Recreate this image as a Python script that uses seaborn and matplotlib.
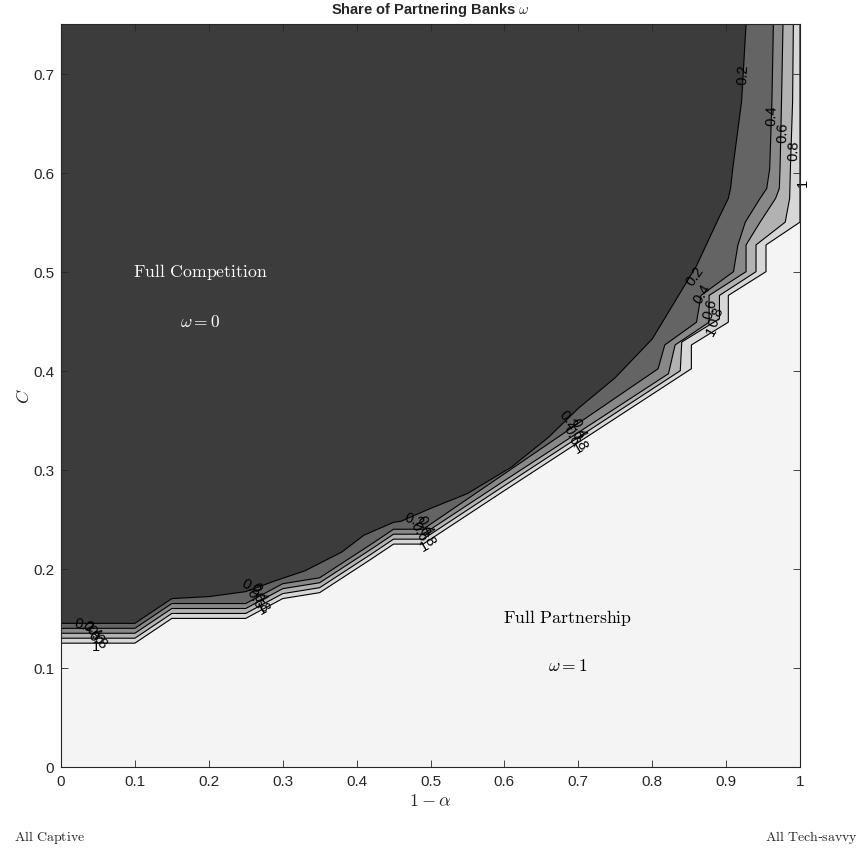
import numpy as np
import pandas as pd

import matplotlib
matplotlib.use("Agg")
import matplotlib.pyplot as plt
import seaborn as sns


# contour levels of omega and the boundary curve of each level (1 - alpha, C)
levels = [0.2, 0.4, 0.6, 0.8, 1.0]

level_02_x = [0.0, 0.10, 0.15, 0.20, 0.25, 0.29, 0.33, 0.38, 0.41, 0.45, 0.46, 0.50, 0.55,
              0.61, 0.66, 0.70, 0.75, 0.80, 0.86, 0.89, 0.903, 0.906, 0.909, 0.921, 0.927]
level_02_c = [0.145, 0.145, 0.170, 0.172, 0.177, 0.188, 0.198, 0.217, 0.234, 0.247, 0.248, 0.261, 0.276,
              0.303, 0.333, 0.362, 0.393, 0.432, 0.506, 0.554, 0.574, 0.584, 0.604, 0.672, 0.750]

level_04_x = [0.0, 0.10, 0.15, 0.25, 0.30, 0.35, 0.42, 0.45, 0.49, 0.60, 0.808, 0.817, 0.860,
              0.866, 0.910, 0.916, 0.926, 0.946, 0.955, 0.959, 0.962, 0.964]
level_04_c = [0.140, 0.140, 0.165, 0.165, 0.185, 0.191, 0.225, 0.240, 0.240, 0.296, 0.402, 0.426, 0.449,
              0.476, 0.500, 0.527, 0.550, 0.574, 0.584, 0.604, 0.672, 0.750]

level_06_x = [0.0, 0.10, 0.15, 0.25, 0.30, 0.35, 0.42, 0.45, 0.49, 0.60, 0.822, 0.831, 0.877,
              0.877, 0.927, 0.927, 0.946, 0.967, 0.972, 0.973, 0.975, 0.977]
level_06_c = [0.135, 0.135, 0.160, 0.160, 0.180, 0.186, 0.220, 0.235, 0.235, 0.289, 0.397, 0.426, 0.449,
              0.476, 0.500, 0.527, 0.550, 0.574, 0.584, 0.604, 0.672, 0.750]

level_08_x = [0.0, 0.10, 0.15, 0.25, 0.30, 0.35, 0.42, 0.45, 0.49, 0.60, 0.838, 0.840, 0.891,
              0.891, 0.9405, 0.9405, 0.980, 0.986, 0.987, 0.990, 0.991]
level_08_c = [0.130, 0.130, 0.155, 0.155, 0.175, 0.181, 0.215, 0.230, 0.230, 0.284, 0.400, 0.429, 0.4525,
              0.476, 0.500, 0.527, 0.550, 0.574, 0.604, 0.672, 0.750]

level_10_x = [0.0, 0.10, 0.15, 0.25, 0.30, 0.35, 0.42, 0.45, 0.49, 0.60, 0.853, 0.853, 0.903,
              0.903, 0.954, 0.954, 1.0, 1.0]
level_10_c = [0.125, 0.125, 0.150, 0.150, 0.170, 0.176, 0.210, 0.225, 0.225, 0.279, 0.402, 0.426, 0.449,
              0.476, 0.500, 0.527, 0.550, 0.750]

# contour labels: text, position, rotation
label_text = ["0.2", "0.4", "0.6", "0.8", "1",
              "0.2", "0.4", "0.6", "0.8", "1",
              "0.2", "0.4", "0.6", "0.8", "1",
              "0.2", "0.4", "0.6", "0.8", "1",
              "0.2", "0.4", "0.6", "0.8", "1",
              "0.2", "0.4", "0.6", "0.8", "1"]
label_x = [0.031, 0.042, 0.046, 0.050, 0.047,
           0.257, 0.268, 0.262, 0.270, 0.272,
           0.478, 0.492, 0.485, 0.495, 0.492,
           0.686, 0.700, 0.690, 0.702, 0.700,
           0.858, 0.867, 0.878, 0.886, 0.880,
           0.923, 0.962, 0.977, 0.992, 1.004]
label_c = [0.1435, 0.139, 0.134, 0.129, 0.122,
           0.182, 0.177, 0.171, 0.167, 0.160,
           0.250, 0.244, 0.238, 0.233, 0.224,
           0.351, 0.343, 0.336, 0.331, 0.323,
           0.496, 0.478, 0.463, 0.455, 0.441,
           0.700, 0.658, 0.641, 0.623, 0.591]
label_rot = [-15, -40, -50, -40, 0,
             -30, -60, -60, -60, 30,
             -20, -60, -60, -60, 30,
             -50, -65, -65, -65, 30,
             55, 60, 75, 70, 60,
             87, 88, 88, 88, 90]

band_colors = ["#3c3c3c", "#646464", "#888888", "#b2b2b2", "#d7d7d7", "#f4f4f4"]

X_MIN, X_MAX = 0.0, 1.0
C_MIN, C_MAX = 0.0, 0.75


def region_above(xs, cs):
    # close a boundary curve along the top-left of the box
    px, pc = list(xs), list(cs)
    if pc[-1] < C_MAX:
        px.append(X_MAX)
        pc.append(C_MAX)
    px.append(X_MIN)
    pc.append(C_MAX)
    return px, pc


def main():
    sns.set_theme(style="ticks")
    plt.rcParams["font.family"] = ["Liberation Sans", "DejaVu Sans"]
    plt.rcParams["mathtext.fontset"] = "cm"

    fig = plt.figure(figsize=(8.61, 8.53), dpi=100)
    ax = fig.add_axes([61 / 861, 85 / 853, 739 / 861, 743 / 853])
    ax.set_axisbelow(False)

    boundaries = {
        1.0: (level_10_x, level_10_c),
        0.8: (level_08_x, level_08_c),
        0.6: (level_06_x, level_06_c),
        0.4: (level_04_x, level_04_c),
        0.2: (level_02_x, level_02_c),
    }

    # lightest band fills everything, darker bands stacked on top
    ax.fill([X_MIN, X_MAX, X_MAX, X_MIN], [C_MIN, C_MIN, C_MAX, C_MAX],
            color=band_colors[5], lw=0, zorder=1)
    for i, lev in enumerate([1.0, 0.8, 0.6, 0.4, 0.2]):
        xs, cs = boundaries[lev]
        px, pc = region_above(xs, cs)
        ax.fill(px, pc, color=band_colors[4 - i], lw=0, zorder=1)

    for lev in levels:
        xs, cs = boundaries[lev]
        df = pd.DataFrame({"x": xs, "c": cs})
        sns.lineplot(data=df, x="x", y="c", sort=False, estimator=None,
                     color="black", lw=0.8, ax=ax, zorder=2)

    for t, x, c, r in zip(label_text, label_x, label_c, label_rot):
        ax.text(x, c, t, rotation=r, fontsize=10.5, ha="center", va="center",
                color="black", zorder=3, rotation_mode="anchor")

    ax.set_xlim(X_MIN, X_MAX)
    ax.set_ylim(C_MIN, C_MAX)
    ax.set_xticks(np.arange(0, 1.01, 0.1))
    ax.set_xticklabels(["0", "0.1", "0.2", "0.3", "0.4", "0.5", "0.6", "0.7", "0.8", "0.9", "1"])
    ax.set_yticks(np.arange(0, 0.71, 0.1))
    ax.set_yticklabels(["0", "0.1", "0.2", "0.3", "0.4", "0.5", "0.6", "0.7"])
    ax.tick_params(direction="in", length=5, width=0.6, colors="#262626",
                   labelsize=11, top=True, right=True, pad=5)
    for s in ax.spines.values():
        s.set_color("#262626")
        s.set_linewidth(0.8)
        s.set_zorder(4)

    ax.set_xlabel(r"$1-\alpha$", fontsize=13, labelpad=3)
    ax.set_ylabel(r"$C$", fontsize=13)
    ax.yaxis.set_label_coords(-0.038, 0.5)
    fig.text(430.5 / 861, 1 - 10 / 853, r"Share of Partnering Banks $\omega$", fontsize=10.5,
             fontweight="bold", ha="center", va="center")

    ax.text(0.188, 0.501, r"$\mathrm{Full\ Competition}$", color="white",
            fontsize=12.8, ha="center", va="center", zorder=5)
    ax.text(0.188, 0.4505, r"$\omega = 0$", color="white",
            fontsize=12.5, ha="center", va="center", zorder=5)
    ax.text(0.686, 0.1515, r"$\mathrm{Full\ Partnership}$", color="black",
            fontsize=12.8, ha="center", va="center", zorder=5)
    ax.text(0.686, 0.103, r"$\omega = 1$", color="black",
            fontsize=12.5, ha="center", va="center", zorder=5)

    fig.text(14 / 861, 1 - 838 / 853, r"$\mathrm{All\ Captive}$", fontsize=10,
             ha="left", va="center")
    fig.text(858 / 861, 1 - 838 / 853, r"$\mathrm{All\ Tech}$-$\mathrm{savvy}$", fontsize=10,
             ha="right", va="center")

    fig.savefig("out.png", dpi=100, facecolor="white")


if __name__ == "__main__":
    main()
